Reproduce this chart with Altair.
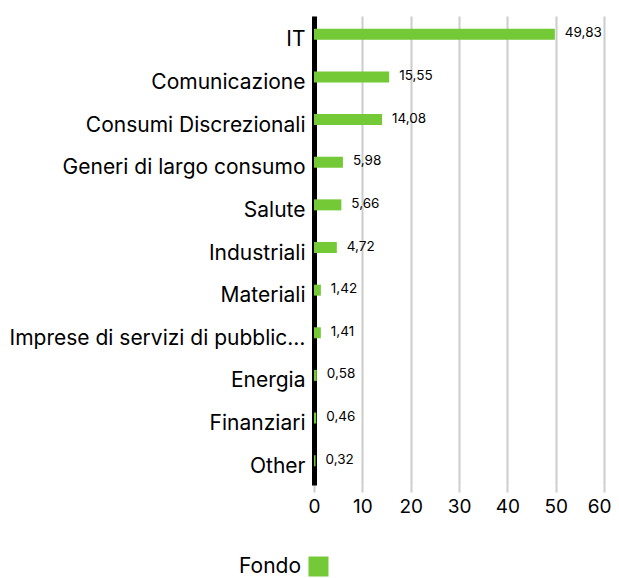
import altair as alt
import pandas as pd

categories = [
    "IT",
    "Comunicazione",
    "Consumi Discrezionali",
    "Generi di largo consumo",
    "Salute",
    "Industriali",
    "Materiali",
    "Imprese di servizi di pubblica utilità",
    "Energia",
    "Finanziari",
    "Other",
]
values = [49.83, 15.55, 14.08, 5.98, 5.66, 4.72, 1.42, 1.41, 0.58, 0.46, 0.32]
series = "Fondo"
x_ticks = [0, 10, 20, 30, 40, 50, 60]

GREEN = "#73c936"
FONT = "Inter"

df = pd.DataFrame({"cat": categories, "val": values, "series": [series] * len(values)})

y_enc = alt.Y(
    "cat:N",
    sort=categories,
    title=None,
    scale=alt.Scale(paddingInner=0, paddingOuter=0),
    axis=alt.Axis(
        domain=True,
        domainColor="#000000",
        domainWidth=5,
        ticks=False,
        labelFontSize=21,
        labelColor="#000000",
        labelFont=FONT,
        labelPadding=9,
        labelLimit=296,
        labelOffset=3,
        grid=False,
    ),
)

x_enc = alt.X(
    "val:Q",
    title=None,
    scale=alt.Scale(domain=[0, 60], nice=False),
    axis=alt.Axis(
        values=x_ticks,
        domain=False,
        grid=True,
        gridColor="#cccccc",
        gridWidth=2,
        ticks=True,
        tickColor="#cccccc",
        tickWidth=2,
        tickSize=7,
        labelFontSize=19,
        labelColor="#000000",
        labelFont=FONT,
        labelPadding=5,
        labelFlush=False,
        labelAlign={"condition": {"test": "datum.value >= 60", "value": "right"}, "value": "center"},
        labelOffset={"condition": {"test": "datum.value >= 60", "value": 7}, "value": 0},
    ),
)

bars = alt.Chart(df).mark_bar(size=11, yOffset=-3).encode(
    x=x_enc,
    y=y_enc,
    color=alt.Color(
        "series:N",
        scale=alt.Scale(range=[GREEN]),
        legend=alt.Legend(
            title=None,
            orient="none",
            legendX=-6,
            legendY=540,
            symbolType="square",
            symbolSize=400,
            symbolStrokeWidth=0,
            symbolOffset=0,
            labelOffset={"expr": "-28"},
            labelAlign="right",
            labelFontSize=21,
            labelFont=FONT,
            labelColor="#000000",
            padding=0,
        ),
    ),
)

labels = alt.Chart(df).transform_calculate(
    txt="replace(format(datum.val, '.2f'), '.', ',')"
).mark_text(align="left", baseline="middle", dx=10, dy=-4, fontSize=13.5, font=FONT, color="#000000").encode(
    x=alt.X("val:Q"),
    y=alt.Y("cat:N", sort=categories),
    text="txt:N",
)

chart = (
    alt.layer(bars, labels)
    .properties(
        width=290,
        height=469,
        autosize=alt.AutoSizeParams(type="none"),
        padding={"left": 306, "top": 8, "right": 7, "bottom": 93},
    )
    .configure_view(stroke=None)
)

chart.save("out.html", embed_options={"renderer": "svg", "actions": False})
